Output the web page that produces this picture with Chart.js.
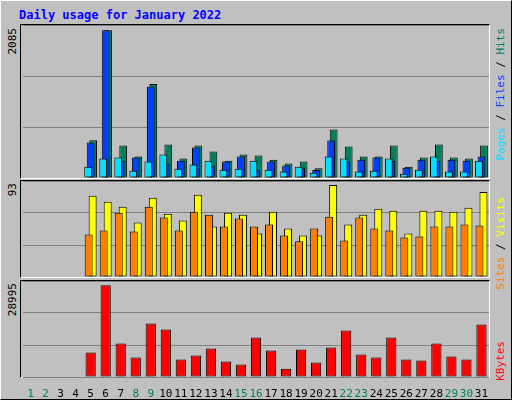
<!DOCTYPE html>
<html><head><meta charset="utf-8">
<script src="https://cdn.jsdelivr.net/npm/chart.js@4"></script>
<style>
html,body{margin:0;padding:0;background:#c0c0c0;}
#wrap{position:relative;width:510px;height:398px;border-top:1px solid #fff;border-left:1px solid #fff;border-right:1px solid #000;border-bottom:1px solid #000;background:#c0c0c0;overflow:hidden;font-family:"DejaVu Sans Mono",monospace;}
.panel{position:absolute;left:19px;width:470px;box-sizing:border-box;border-top:1px solid #000;border-left:1px solid #000;border-right:1px solid #fff;border-bottom:1px solid #fff;}
canvas{position:absolute;}
.vt{position:absolute;writing-mode:vertical-rl;transform:rotate(180deg);font-size:11px;white-space:nowrap;}
#title{position:absolute;left:18px;top:7px;color:#0000ff;font-weight:bold;font-size:12px;}
</style></head><body>
<div id="wrap">
<div id="title">Daily usage for January 2022</div>
<div class="panel" style="top:23px;height:155px"></div>
<div class="panel" style="top:179px;height:98px"></div>
<div class="panel" style="top:279px;height:98px"></div>
<div style="position:absolute;left:22px;top:24px;width:466px;height:153px"><canvas id="c1"></canvas></div>
<div style="position:absolute;left:22px;top:180px;width:466px;height:96px"><canvas id="c2"></canvas></div>
<div style="position:absolute;left:22px;top:280px;width:466px;height:118px"><canvas id="c3"></canvas></div>
<div class="vt" style="left:5px;top:27px;color:#000">2085</div>
<div class="vt" style="left:5px;top:182px;color:#000">93</div>
<div class="vt" style="left:5px;top:282px;color:#000">28995</div>
<div class="vt" style="left:493px;top:27px"><span style="color:#00e0ff">Pages</span><span style="color:#000">&nbsp;/&nbsp;</span><span style="color:#0040ff">Files</span><span style="color:#000">&nbsp;/&nbsp;</span><span style="color:#00805c">Hits</span></div>
<div class="vt" style="left:493px;top:196px"><span style="color:#ff8000">Sites</span><span style="color:#000">&nbsp;/&nbsp;</span><span style="color:#ffff00">Visits</span></div>
<div class="vt" style="left:493px;top:340px;color:#ff0000">KBytes</div>
</div>
<script>
const days = Array.from({length:31},(_, i)=>String(i+1));
const weekend = ["1","2","8","9","15","16","22","23","29","30"];
const hits   = [0,0,0,0,533,2085,458,302,1325,472,274,458,373,245,330,316,259,203,231,137,684,443,302,302,458,160,288,472,288,274,458];
const files  = [0,0,0,0,500,2085,245,288,1292,203,245,429,175,231,302,118,231,175,146,113,528,231,259,288,245,146,259,245,259,245,302];
const pages  = [0,0,0,0,160,274,288,104,231,330,132,189,245,118,132,245,118,90,160,75,302,274,90,104,274,61,118,302,90,90,245];
const visits = [0,0,0,0,82,76,71,55,80,64,57,83,51,65,63,44,66,49,42,42,93,53,63,69,67,44,67,67,66,70,86];
const sites  = [0,0,0,0,43,47,65,46,71,60,47,66,63,51,59,51,53,42,36,49,61,37,60,49,47,40,41,51,51,53,52];
const kbytes = [0,0,0,0,7725,28995,10580,6136,16930,15020,5500,6770,8990,4870,3915,12485,8360,2645,8675,4550,9310,14705,7090,6136,12485,5500,5185,10580,6455,5500,16610];

const rev = a => a.slice().reverse();
function ds(data,color){return {data:rev(data),backgroundColor:color,borderColor:'#000',borderWidth:1,borderSkipped:false};}
function opts(max,catPct,barPct,showX){
  return {responsive:true,maintainAspectRatio:false,animation:false,
    layout:{padding:0},
    plugins:{legend:{display:false},tooltip:{enabled:false}},
    datasets:{bar:{categoryPercentage:catPct,barPercentage:barPct}},
    scales:{
      x:{reverse:true,offset:true,grid:{display:false},border:{display:false},
        ticks:{display:showX,autoSkip:false,maxRotation:0,padding:3,
          font:{family:'DejaVu Sans Mono',size:11},
          color:c=>weekend.includes(String(c.tick.label))?'#00805c':'#000'},
        afterFit:s=>{s.height=showX?22:0;}},
      y:{min:0,max:max,ticks:{display:false,stepSize:max/3},
        grid:{color:'#808080',drawTicks:false,lineWidth:1},border:{display:false},
        afterFit:s=>{s.width=0;}}
    }};
}
const labels = rev(days);
new Chart(document.getElementById('c1'),{type:'bar',data:{labels,datasets:[ds(pages,'#00e0ff'),ds(files,'#0040ff'),ds(hits,'#00805c')]},options:opts(2085*1.035,0.5,3.1,false)});
new Chart(document.getElementById('c2'),{type:'bar',data:{labels,datasets:[ds(sites,'#ff8000'),ds(visits,'#ffff00')]},options:opts(97,0.53,2.0,false)});
new Chart(document.getElementById('c3'),{type:'bar',data:{labels,datasets:[ds(kbytes,'#ff0000')]},options:opts(30355,0.68,1.0,true)});
</script>
</body></html>
